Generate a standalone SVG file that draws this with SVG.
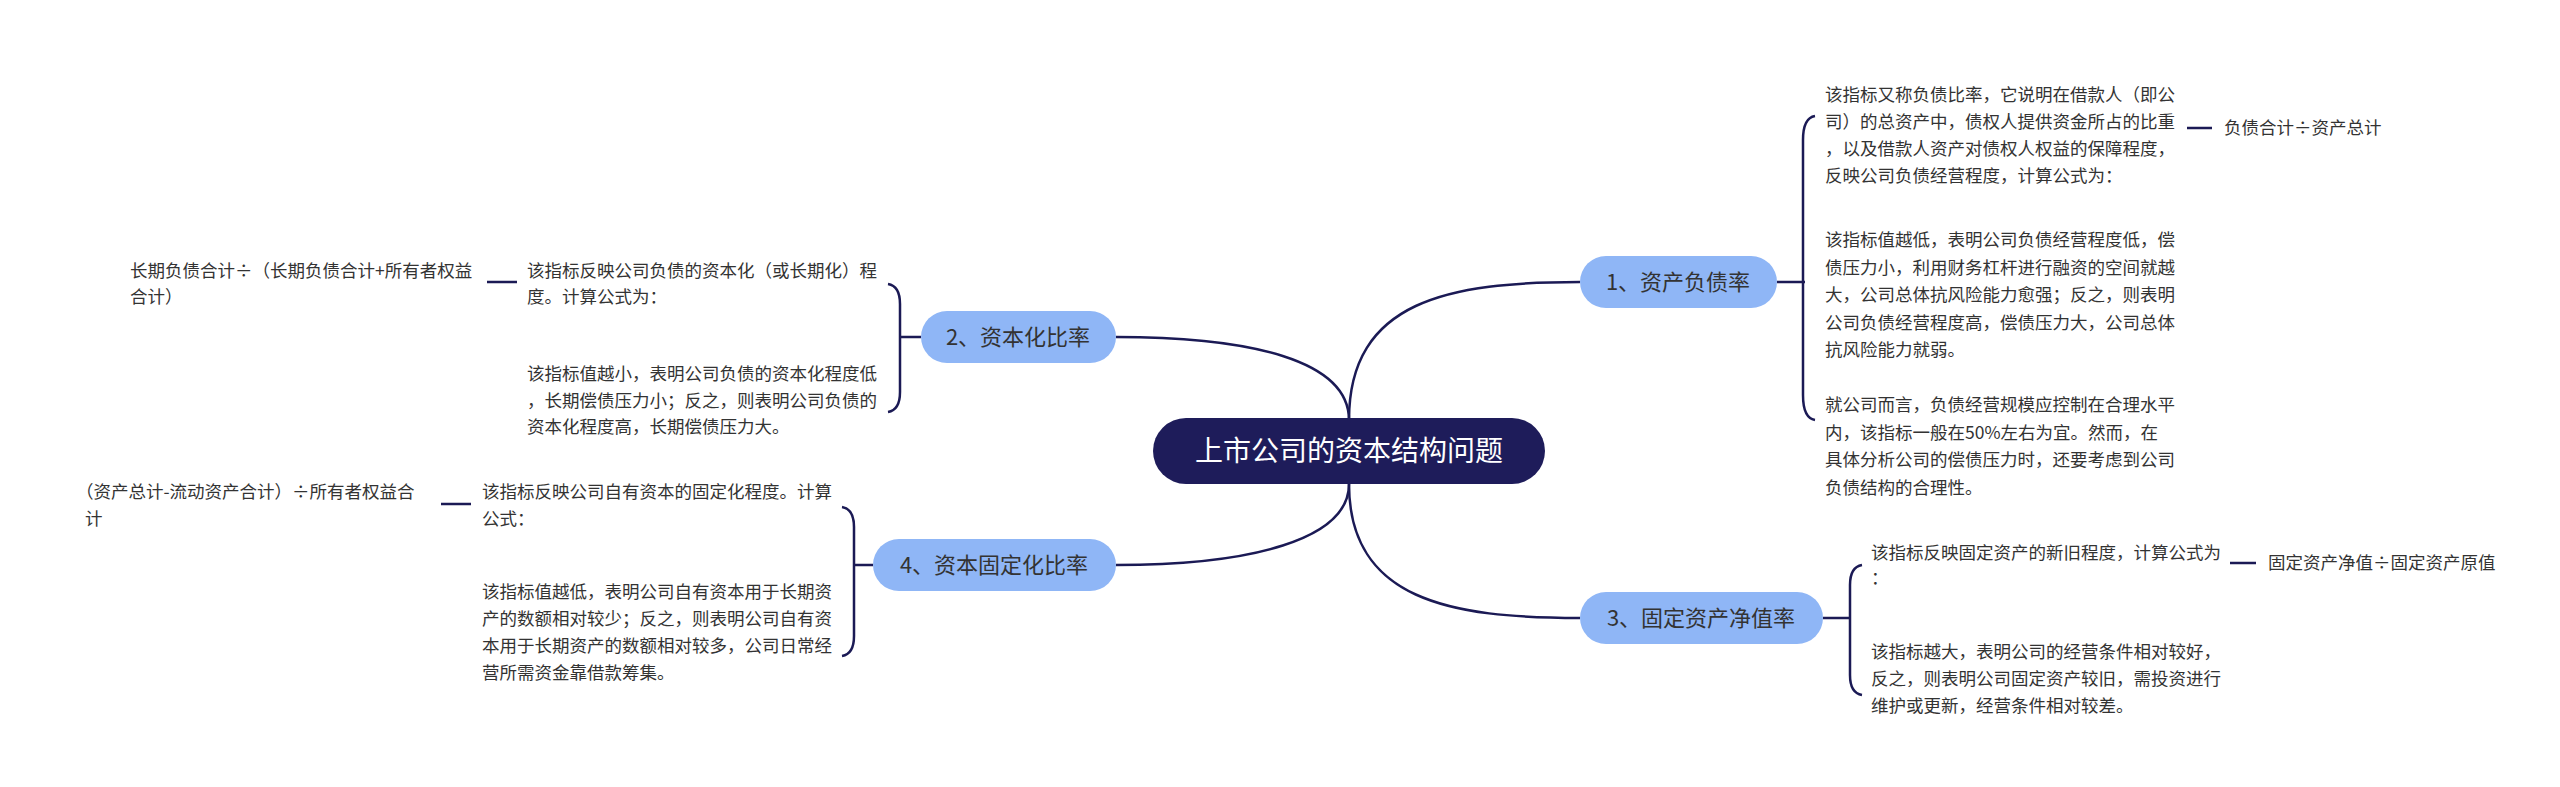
<svg xmlns="http://www.w3.org/2000/svg" width="2560" height="787" viewBox="0 0 2560 787">
<style>
.t{font-family:"Noto Sans CJK SC","Liberation Sans",sans-serif;font-size:17.5px;fill:#333}
.n{font-family:"Noto Sans CJK SC","Liberation Sans",sans-serif;font-size:22px;fill:#333;text-anchor:middle}
.nb{fill:#8fb6f6}
.c{fill:none;stroke:#1b1a55;stroke-width:2.5}
</style>
<rect width="2560" height="787" fill="#fff"/>
<g id="connectors">
<path class="c" d="M1349,420 C1349,300 1450,282 1580,282"/>
<path class="c" d="M1349,484 C1349,600 1450,618 1580,618"/>
<path class="c" d="M1349,420 C1349,360 1250,337 1116,337"/>
<path class="c" d="M1349,484 C1349,540 1250,565 1116,565"/>
<path class="c" d="M1777,282 H1805 M1815,116 Q1803,118 1803,140 V395 Q1803,418 1815,420"/>
<path class="c" d="M1823,618 H1851 M1862,565 Q1850,567 1850,585 V675 Q1850,693 1862,695"/>
<path class="c" d="M921,337 H899 M888,284 Q900,286 900,304 V392 Q900,410 888,412"/>
<path class="c" d="M873,565 H853 M842,507 Q854,509 854,527 V636 Q854,654 842,656"/>
<path class="c" d="M2187,128 H2212 M2230,563 H2256 M487,282 H517 M441,504 H471" stroke-width="3.5"/>
</g>
<g id="root">
<rect x="1153" y="418" width="392" height="66" rx="33" fill="#1e1c5a"/>
<text x="1349" y="461" font-family="Noto Sans CJK SC,Liberation Sans,sans-serif" font-size="28" fill="#fff" text-anchor="middle">上市公司的资本结构问题</text>
</g>
<g id="n1">
<rect class="nb" x="1580" y="256" width="197" height="52" rx="26"/>
<text class="n" x="1678" y="290">1、资产负债率</text>
</g>
<g id="n1a"><text class="t" x="1825" y="101">该指标又称负债比率，它说明在借款人（即公<tspan x="1825" dy="27">司）的总资产中，债权人提供资金所占的比重</tspan><tspan x="1825" dy="27">，以及借款人资产对债权人权益的保障程度，</tspan><tspan x="1825" dy="27">反映公司负债经营程度，计算公式为：</tspan></text></g>
<g id="n1a1"><text class="t" x="2224" y="134">负债合计÷资产总计</text></g>
<g id="n1b"><text class="t" x="1825" y="246">该指标值越低，表明公司负债经营程度低，偿<tspan x="1825" dy="27.5">债压力小，利用财务杠杆进行融资的空间就越</tspan><tspan x="1825" dy="27.5">大，公司总体抗风险能力愈强；反之，则表明</tspan><tspan x="1825" dy="27.5">公司负债经营程度高，偿债压力大，公司总体</tspan><tspan x="1825" dy="27.5">抗风险能力就弱。</tspan></text></g>
<g id="n1c"><text class="t" x="1825" y="411">就公司而言，负债经营规模应控制在合理水平<tspan x="1825" dy="27.5">内，该指标一般在50%左右为宜。然而，在</tspan><tspan x="1825" dy="27.5">具体分析公司的偿债压力时，还要考虑到公司</tspan><tspan x="1825" dy="27.5">负债结构的合理性。</tspan></text></g>
<g id="n3">
<rect class="nb" x="1580" y="592" width="243" height="52" rx="26"/>
<text class="n" x="1701" y="626">3、固定资产净值率</text>
</g>
<g id="n3a"><text class="t" x="1871" y="559">该指标反映固定资产的新旧程度，计算公式为<tspan x="1871" dy="25">：</tspan></text></g>
<g id="n3a1"><text class="t" x="2268" y="569">固定资产净值÷固定资产原值</text></g>
<g id="n3b"><text class="t" x="1871" y="658">该指标越大，表明公司的经营条件相对较好，<tspan x="1871" dy="27">反之，则表明公司固定资产较旧，需投资进行</tspan><tspan x="1871" dy="27">维护或更新，经营条件相对较差。</tspan></text></g>
<g id="n2">
<rect class="nb" x="921" y="311" width="195" height="52" rx="26"/>
<text class="n" x="1018" y="345">2、资本化比率</text>
</g>
<g id="n2a"><text class="t" x="527" y="277">该指标反映公司负债的资本化（或长期化）程<tspan x="527" dy="26">度。计算公式为：</tspan></text></g>
<g id="n2a1"><text class="t" x="130" y="277">长期负债合计÷（长期负债合计+所有者权益<tspan x="130" dy="26">合计）</tspan></text></g>
<g id="n2b"><text class="t" x="527" y="380">该指标值越小，表明公司负债的资本化程度低<tspan x="527" dy="26.5">，长期偿债压力小；反之，则表明公司负债的</tspan><tspan x="527" dy="26.5">资本化程度高，长期偿债压力大。</tspan></text></g>
<g id="n4">
<rect class="nb" x="873" y="539" width="243" height="52" rx="26"/>
<text class="n" x="994" y="573">4、资本固定化比率</text>
</g>
<g id="n4a"><text class="t" x="482" y="498">该指标反映公司自有资本的固定化程度。计算<tspan x="482" dy="27">公式：</tspan></text></g>
<g id="n4a1"><text class="t" x="76" y="498">（资产总计-流动资产合计）÷所有者权益合<tspan x="85" dy="27">计</tspan></text></g>
<g id="n4b"><text class="t" x="482" y="598">该指标值越低，表明公司自有资本用于长期资<tspan x="482" dy="27">产的数额相对较少；反之，则表明公司自有资</tspan><tspan x="482" dy="27">本用于长期资产的数额相对较多，公司日常经</tspan><tspan x="482" dy="27">营所需资金靠借款筹集。</tspan></text></g>
</svg>
